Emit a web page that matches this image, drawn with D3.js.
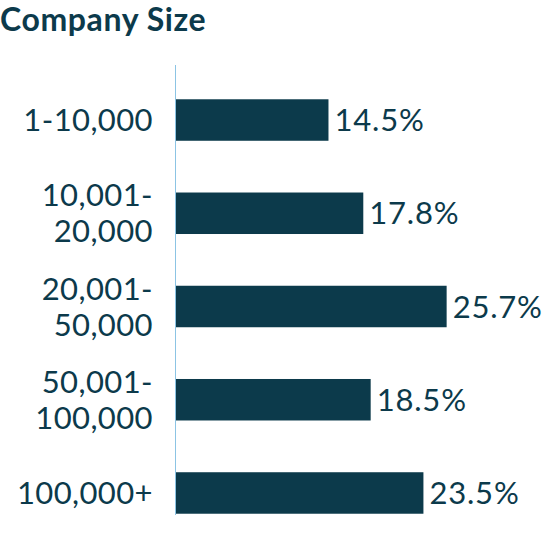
<!DOCTYPE html>
<html>
<head>
<meta charset="utf-8">
<script src="https://cdn.jsdelivr.net/npm/d3@7"></script>
<style>
  body { margin: 0; background: #fff; }
  svg { display: block; }
</style>
</head>
<body>
<svg id="chart" width="553" height="542"></svg>
<script>
// data
const categories = ["1-10,000", "10,001-\n20,000", "20,001-\n50,000", "50,001-\n100,000", "100,000+"];
const values = [14.5, 17.8, 25.7, 18.5, 23.5];
const title = "Company Size";

const dark = "#0c3a4b";
const svg = d3.select("#chart");

const x = d3.scaleLinear()
  .domain([0, 30])
  .range([175.5, 175.5 + 316.5]);

const y = d3.scaleBand()
  .domain(categories)
  .range([73.4, 539.6])
  .paddingInner(0.555)
  .paddingOuter(0.2775);

// title (kept low enough that the font box stays inside the svg)
svg.append("text")
  .attr("x", 0)
  .attr("y", 31)
  .attr("fill", dark)
  .style("font", "bold 32px Lato")
  .style("letter-spacing", "0.6px")
  .text(title);

// bars
svg.selectAll("rect.bar")
  .data(values)
  .join("rect")
  .attr("class", "bar")
  .attr("x", x(0))
  .attr("y", (d, i) => y(categories[i]))
  .attr("width", d => x(d) - x(0))
  .attr("height", y.bandwidth())
  .attr("fill", dark);

// value labels
svg.selectAll("text.val")
  .data(values)
  .join("text")
  .attr("class", "val")
  .attr("x", d => x(d) + 6)
  .attr("y", (d, i) => y(categories[i]) + y.bandwidth() / 2)
  .attr("dy", "0.36em")
  .attr("fill", dark)
  .style("font", "31px Lato")
  .style("letter-spacing", "0.8px")
  .text(d => d + "%");

// category labels, split on newline
const cats = svg.selectAll("text.cat")
  .data(categories)
  .join("text")
  .attr("class", "cat")
  .attr("text-anchor", "end")
  .attr("fill", dark)
  .style("font", "31px Lato")
  .style("letter-spacing", "0.4px");

cats.each(function(c) {
  const lines = c.split("\n");
  const cy = y(c) + y.bandwidth() / 2;
  const lh = 36;
  lines.forEach((ln, j) => {
    d3.select(this).append("tspan")
      .attr("x", 153)
      .attr("y", cy + (j - (lines.length - 1) / 2) * lh)
      .attr("dy", "0.36em")
      .text(ln);
  });
});

// axis line
svg.append("line")
  .attr("x1", x(0))
  .attr("x2", x(0))
  .attr("y1", 65)
  .attr("y2", 515)
  .attr("stroke", "#8cc4e4")
  .attr("stroke-width", 1);
</script>
</body>
</html>
